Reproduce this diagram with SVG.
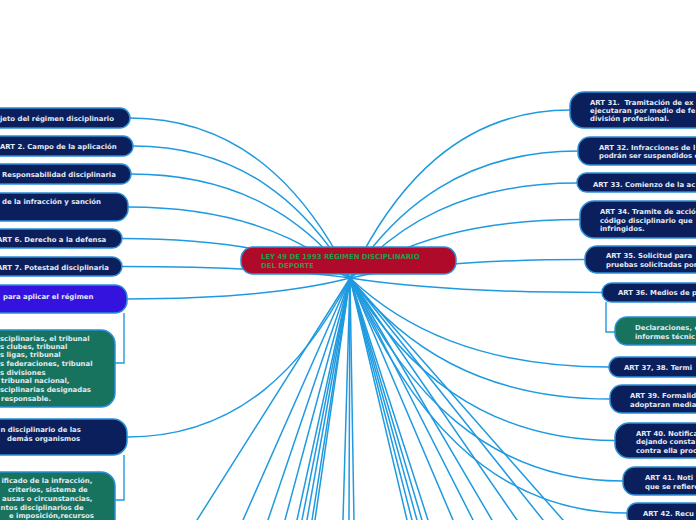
<svg xmlns="http://www.w3.org/2000/svg" width="696" height="520" viewBox="0 0 696 520">
<style>
.c{fill:none;stroke:#1f9ae0;stroke-width:1.5;stroke-linecap:round}
.b{fill:none;stroke:#1f9ae0;stroke-width:1.4}
.n{fill:#0a1f5c;stroke:#2a8fd8;stroke-width:1.5}
.g{fill:#17735e;stroke:#2a8fd8;stroke-width:1.5}
.p{fill:#3413de;stroke:#2a8fd8;stroke-width:1.5}
.r{fill:#b00a2b;stroke:#2a8fd8;stroke-width:1.5}
text{font-family:"DejaVu Sans","Verdana",sans-serif;font-weight:bold;font-size:6.9px;fill:#e4eaf4;white-space:pre}
.t{fill:#1f9e49}
</style>
<g id="connectors">
<path class="c" d="M350 278C306 190 240 118 130 118"/>
<path class="c" d="M350 278C306.6 205.4 241.5 146 133 146"/>
<path class="c" d="M350 278C306.2 220.8 240.5 174 131 174"/>
<path class="c" d="M350 278C305.6 239 239 207 128 207"/>
<path class="c" d="M350 278C304.4 256.3 236 238.5 122 238.5"/>
<path class="c" d="M350 278C304.4 271.7 236 266.5 122 266.5"/>
<path class="c" d="M350 278C305.4 289.6 238.5 299 127 299"/>
<path class="c" d="M350 278C305.4 365.5 238.5 437 127 437"/>
<path class="c" d="M350 278C394 185.6 460 110 570 110"/>
<path class="c" d="M350 278C395.6 208.2 464 151 578 151"/>
<path class="c" d="M350 278C395.4 225.8 463.5 183 577 183"/>
<path class="c" d="M350 278C396 245.8 465 219.5 580 219.5"/>
<path class="c" d="M350 278C397 267.8 467.5 259.5 585 259.5"/>
<path class="c" d="M350 278C400.4 286 476 292.5 602 292.5"/>
<path class="c" d="M350 278C401.8 327 479.5 367 609 367"/>
<path class="c" d="M350 278C402 344.6 480 399 610 399"/>
<path class="c" d="M350 278C403 367.4 482.5 440.5 615 440.5"/>
<path class="c" d="M350 278C404.6 389.7 486.5 481 623 481"/>
<path class="c" d="M350 278C405.4 407.3 488.5 513 627 513"/>
<path class="c" stroke-width="1.3" d="M350 278L184.4 540"/>
<path class="c" stroke-width="1.5" d="M350 278L234.2 540"/>
<path class="c" stroke-width="1.7" d="M350 278L261.2 540"/>
<path class="c" stroke-width="2" d="M350 278L279.6 540"/>
<path class="c" stroke-width="2.2" d="M350 278L292.6 540"/>
<path class="c" stroke-width="2.2" d="M350 278L298 540"/>
<path class="c" stroke-width="2.2" d="M350 278L303.4 540"/>
<path class="c" stroke-width="2.2" d="M350 278L308.9 540"/>
<path class="c" stroke-width="2.2" d="M350 278L312.1 540"/>
<path class="c" stroke-width="2.8" d="M350 278L342.4 540"/>
<path class="c" stroke-width="2.8" d="M350 278L348.9 540"/>
<path class="c" stroke-width="2.8" d="M350 278L354.3 540"/>
<path class="c" stroke-width="2.4" d="M350 278L411.7 540"/>
<path class="c" stroke-width="2.4" d="M350 278L417.1 540"/>
<path class="c" stroke-width="2.4" d="M350 278L422.5 540"/>
<path class="c" stroke-width="2.2" d="M350 278L427.9 540"/>
<path class="c" stroke-width="2.2" d="M350 278L434.4 540"/>
<path class="c" stroke-width="1.8" d="M350 278L461.5 540"/>
<path class="c" stroke-width="1.7" d="M350 278L483.2 540"/>
<path class="c" stroke-width="1.6" d="M350 278L503.7 540"/>
<path class="c" stroke-width="1.5" d="M350 278L530.8 540"/>
<path class="c" stroke-width="1.4" d="M350 278L559 540"/>
<path class="c" stroke-width="1.3" d="M350 278L580.6 540"/>
<path class="b" d="M124 313V363H115"/>
<path class="b" d="M124 455V500H115"/>
<path class="b" d="M606 302V332H615"/>
</g>
<g id="root">
<rect class="r" x="241" y="247" width="215" height="27" rx="12"/>
<text class="t" x="261" y="259">LEY 49 DE 1993 RÉGIMEN DISCIPLINARIO</text>
<text class="t" x="261" y="268">DEL DEPORTE</text>
</g>
<g id="l1"><rect class="n" x="-200" y="108" width="330" height="20" rx="10"/><text x="0" y="121">jeto del régimen disciplinario</text></g>
<g id="l2"><rect class="n" x="-200" y="136" width="333" height="20" rx="10"/><text x="0" y="149">ART 2. Campo de la aplicación</text></g>
<g id="l3"><rect class="n" x="-200" y="164" width="331" height="20" rx="10"/><text x="2" y="176.5">Responsabilidad disciplinaria</text></g>
<g id="l4"><rect class="n" x="-200" y="193" width="328" height="28" rx="12"/><text x="2" y="204">de la infracción y sanción</text></g>
<g id="l5"><rect class="n" x="-200" y="229" width="322" height="19" rx="9.5"/><text x="-3" y="241.5">ART 6. Derecho a la defensa</text></g>
<g id="l6"><rect class="n" x="-200" y="257" width="322" height="19" rx="9.5"/><text x="-3" y="269.5">ART 7. Potestad disciplinaria</text></g>
<g id="l7"><rect class="p" x="-200" y="285" width="327" height="28" rx="12"/><text x="3" y="298.5">para aplicar el régimen</text></g>
<g id="l8"><rect class="g" x="-200" y="330" width="315" height="77" rx="14"/>
<text x="0" y="340.6">sciplinarias, el tribunal</text>
<text x="0" y="349">s clubes, tribunal</text>
<text x="0" y="357.3">s ligas, tribunal</text>
<text x="0" y="365.6">s federaciones, tribunal</text>
<text x="0" y="374.6">s divisiones</text>
<text x="1" y="383.3">tribunal nacional,</text>
<text x="0" y="392.3">sciplinarias designadas</text>
<text x="1" y="400.6">responsable.</text></g>
<g id="l9"><rect class="n" x="-200" y="419" width="327" height="36" rx="14"/><text x="0.5" y="431.5">n disciplinario de las</text><text x="7" y="440.5">demás organismos</text></g>
<g id="l10"><rect class="g" x="-200" y="472" width="315" height="70" rx="14"/>
<text x="1.5" y="483.3">ificado de la infracción,</text>
<text x="8" y="492.3">criterios, sistema de</text>
<text x="2" y="500.6">ausas o circunstancias,</text>
<text x="0.5" y="509.6">ntos disciplinarios de</text>
<text x="9" y="518.3">e imposición,recursos</text></g>
<g id="r1"><rect class="n" x="570" y="92" width="330" height="36" rx="14"/>
<text x="590" y="104.5">ART 31.  Tramitación de ex</text>
<text x="590" y="112.5">ejecutaran por medio de fe</text>
<text x="590" y="120.5">división profesional.</text></g>
<g id="r2"><rect class="n" x="578" y="137" width="330" height="28" rx="12"/>
<text x="599" y="149.5">ART 32. Infracciones de l</text>
<text x="599" y="158">podrán ser suspendidos c</text></g>
<g id="r3"><rect class="n" x="577" y="173" width="330" height="19" rx="9.5"/><text x="593" y="186.5">ART 33. Comienzo de la ac</text></g>
<g id="r4"><rect class="n" x="580" y="201" width="330" height="37" rx="14"/>
<text x="600" y="214">ART 34. Tramite de acció</text>
<text x="600" y="222.5">código disciplinario que</text>
<text x="600" y="231">infringidos.</text></g>
<g id="r5"><rect class="n" x="585" y="246" width="330" height="27" rx="12"/>
<text x="606" y="258">ART 35. Solicitud para</text>
<text x="606" y="266.5">pruebas solicitadas por</text></g>
<g id="r6"><rect class="n" x="602" y="283" width="330" height="19" rx="9.5"/><text x="618" y="295">ART 36. Medios de p</text></g>
<g id="r6a"><rect class="g" x="615" y="317" width="330" height="28" rx="12"/>
<text x="635" y="329.5">Declaraciones, e</text>
<text x="635" y="338.5">informes técnic</text></g>
<g id="r7"><rect class="n" x="609" y="357" width="330" height="20" rx="10"/><text x="624" y="370">ART 37, 38. Termi</text></g>
<g id="r8"><rect class="n" x="610" y="385" width="330" height="28" rx="12"/>
<text x="630" y="398">ART 39. Formalid</text>
<text x="630" y="407">adoptaran media</text></g>
<g id="r9"><rect class="n" x="615" y="423" width="330" height="35" rx="14"/>
<text x="636" y="435.5">ART 40. Notifica</text>
<text x="636" y="444">dejando consta</text>
<text x="636" y="452.5">contra ella proc</text></g>
<g id="r10"><rect class="n" x="623" y="467" width="330" height="28" rx="12"/>
<text x="645" y="479.5">ART 41. Noti</text>
<text x="645" y="488.5">que se refiere</text></g>
<g id="r11"><rect class="n" x="627" y="503" width="330" height="22" rx="10"/><text x="643" y="515.5">ART 42. Recu</text></g>
</svg>
